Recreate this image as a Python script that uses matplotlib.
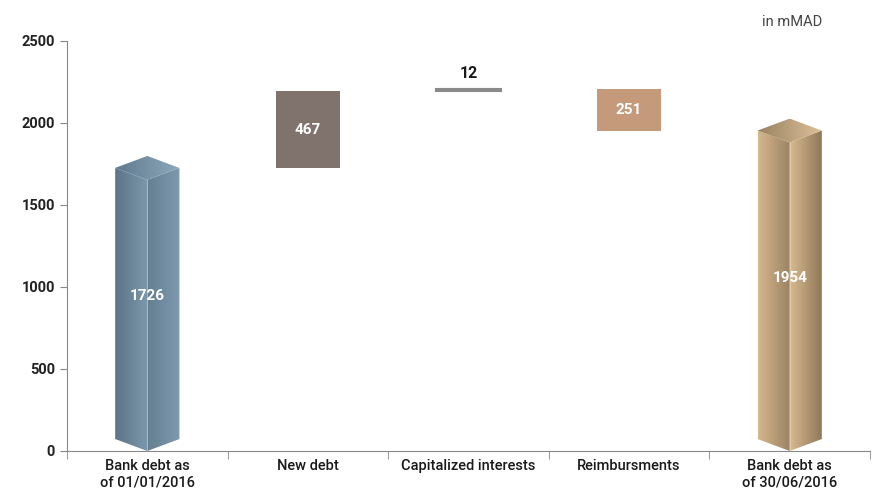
import numpy as np
import matplotlib
matplotlib.use("Agg")
import matplotlib.pyplot as plt
from matplotlib.patches import Polygon
from matplotlib.colors import LinearSegmentedColormap

plt.rcParams['font.family'] = ['Roboto', 'DejaVu Sans']

categories = ["Bank debt as\nof 01/01/2016", "New debt", "Capitalized interests",
              "Reimbursments", "Bank debt as\nof 30/06/2016"]
values = [1726, 467, 12, -251, 1954]
is_total = [True, False, False, False, True]
box_colors = [None, "#80726d", "#8a8a8a", "#c49a7b", None]

# pillar shading (left face, right face, top) as (start, end) colours
pillar_shades = {
    0: (("#5c7588", "#7d98ab"), ("#647e92", "#7e99ad"), ("#5f7a8f", "#8ea8bb")),
    4: (("#d6b78e", "#9a8261"), ("#d8b98f", "#8e7757"), ("#9a8362", "#dcc099")),
}

fig = plt.figure(figsize=(8.81, 4.96), dpi=100)
ax = fig.add_axes([67 / 881, 45 / 496, 803 / 881, 410 / 496])


def grad_poly(ax, verts, c0, c1):
    verts = np.asarray(verts)
    poly = Polygon(verts, closed=True, facecolor="none", edgecolor="none")
    ax.add_patch(poly)
    cmap = LinearSegmentedColormap.from_list("g", [c0, c1])
    grad = np.linspace(0, 1, 64).reshape(1, -1)
    x0, x1 = verts[:, 0].min(), verts[:, 0].max()
    y0, y1 = verts[:, 1].min(), verts[:, 1].max()
    im = ax.imshow(grad, cmap=cmap, extent=[x0, x1, y0, y1], aspect="auto",
                   origin="lower", interpolation="bilinear", zorder=3)
    im.set_clip_path(poly)


hw = 0.2   # half width of bars in category units
d = 73     # depth of the pillar diamond in data units

running = 0
for i, (v, tot) in enumerate(zip(values, is_total)):
    if tot:
        lf, rf, tp = pillar_shades[i]
        grad_poly(ax, [(i - hw, d), (i, 0), (i, v - d), (i - hw, v)], *lf)
        grad_poly(ax, [(i, 0), (i + hw, d), (i + hw, v), (i, v - d)], *rf)
        grad_poly(ax, [(i - hw, v), (i, v + d), (i + hw, v), (i, v - d)], *tp)
        ax.plot([i, i], [0, v - d], color="white", lw=0.5, alpha=0.4, zorder=4)
        ax.text(i, v / 2 + 80, str(v), ha="center", va="center", color="white",
                fontsize=11, fontweight="bold", zorder=5)
        running = v
    else:
        bottom = running if v > 0 else running + v
        small = abs(v) < 50
        ax.bar(i, abs(v), bottom=bottom, width=2 * hw, color=box_colors[i],
               edgecolor=box_colors[i], linewidth=1.5 if small else 0, zorder=3)
        if small:
            ax.text(i, running + max(v, 0) + 50, str(abs(v)), ha="center", va="bottom",
                    color="#1a1a1a", fontsize=11.5, fontweight="bold")
        else:
            ax.text(i, bottom + abs(v) / 2, str(abs(v)), ha="center", va="center",
                    color="white", fontsize=11, fontweight="bold", zorder=5)
        running += v

ax.set_xlim(-0.5, len(categories) - 0.5)
ax.set_ylim(0, 2500)
ax.set_yticks(np.arange(0, 2501, 500))
ax.set_xticks(range(len(categories)))
ax.set_xticklabels(categories, fontsize=10.5, color="#1a1a1a", fontweight="medium")
ax.set_xticks(np.arange(-0.5, len(categories), 1), minor=True)
ax.tick_params(axis="x", which="major", length=0, pad=6)
ax.tick_params(axis="x", which="minor", length=6, color="#888888")
ax.tick_params(axis="y", length=5, color="#888888", labelsize=10.5, labelcolor="#222222")
for lbl in ax.get_yticklabels():
    lbl.set_fontweight("bold")
for s in ["top", "right"]:
    ax.spines[s].set_visible(False)
for s in ["left", "bottom"]:
    ax.spines[s].set_color("#888888")
    ax.spines[s].set_linewidth(0.8)

fig.text(822 / 881, 1 - 22 / 496, "in mMAD", ha="right", va="center",
         fontsize=10.5, color="#444444")

fig.savefig("out.png", dpi=100)
